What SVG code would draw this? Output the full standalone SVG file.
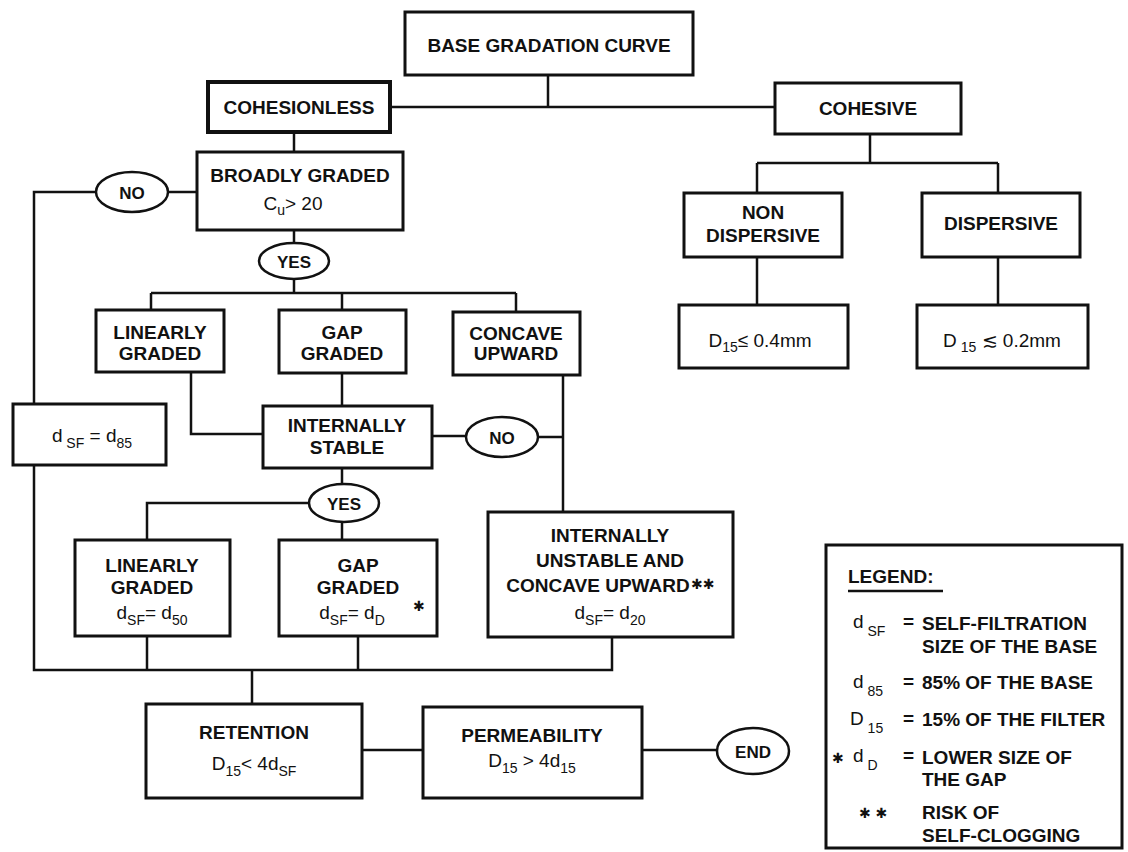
<svg xmlns="http://www.w3.org/2000/svg" width="1128" height="852" viewBox="0 0 1128 852">
<style>
.box{fill:#fff;stroke:#111;stroke-width:3}
.thick{stroke-width:4}
.ell{fill:#fff;stroke:#111;stroke-width:2.5}
.ln{fill:none;stroke:#111;stroke-width:2.5;stroke-linejoin:miter}
text{font-family:"Liberation Sans",Arial,sans-serif;font-weight:bold;font-size:19px;fill:#111}
.c{text-anchor:middle}
.s{font-size:14px}
.r{font-weight:normal}
.st{font-family:"DejaVu Sans",sans-serif;font-size:14px;font-weight:bold}
</style>
<rect width="1128" height="852" fill="#fff"/>
<g id="connectors">
<path class="ln" d="M548,75V107M390,107H775"/>
<path class="ln" d="M294,132V152"/>
<path class="ln" d="M197,192H167M96,192H34V404"/>
<path class="ln" d="M34,465V670H612V637"/>
<path class="ln" d="M294,230V243M294,278V293M151,293H516M151,293V310M342,293V310M516,293V312"/>
<path class="ln" d="M191,372V434H263"/>
<path class="ln" d="M342,373V406"/>
<path class="ln" d="M432,436H466M538,437H563"/>
<path class="ln" d="M563,375V512"/>
<path class="ln" d="M342,468V484M309,503H147V540M342,522V540"/>
<path class="ln" d="M147,636V670M358,636V670M252,670V704"/>
<path class="ln" d="M362,750H423M642,750H717"/>
<path class="ln" d="M870,134V163M757,163H998M757,163V193M998,163V193"/>
<path class="ln" d="M757,257V305M998,257V305"/>
</g>
<g id="base"><rect class="box" x="405" y="12" width="288" height="63"/><text class="c" x="549" y="52">BASE GRADATION CURVE</text></g>
<g id="cohesionless"><rect class="box thick" x="208" y="82" width="182" height="50"/><text class="c" x="299" y="114">COHESIONLESS</text></g>
<g id="cohesive"><rect class="box" x="775" y="83" width="186" height="51"/><text class="c" x="868" y="115">COHESIVE</text></g>
<g id="broadly"><rect class="box" x="197" y="152" width="206" height="78"/><text class="c" x="300" y="182">BROADLY GRADED</text><text class="c r" x="293" y="210">C<tspan class="s" dy="5">u</tspan><tspan dy="-5">&gt; 20</tspan></text></g>
<g id="no1"><ellipse class="ell" cx="132" cy="192" rx="36" ry="20"/><text class="c" x="132" y="199" style="font-size:17px">NO</text></g>
<g id="yes1"><ellipse class="ell" cx="294" cy="261" rx="35" ry="18"/><text class="c" x="294" y="268" style="font-size:17px">YES</text></g>
<g id="nondispersive"><rect class="box" x="684" y="193" width="158" height="64"/><text class="c" x="763" y="219">NON</text><text class="c" x="763" y="242">DISPERSIVE</text></g>
<g id="dispersive"><rect class="box" x="922" y="193" width="158" height="64"/><text class="c" x="1001" y="230">DISPERSIVE</text></g>
<g id="d15a"><rect class="box" x="679" y="305" width="169" height="63"/><text class="c r" x="760" y="347">D<tspan class="s" dy="5">15</tspan><tspan dy="-5">≤  0.4mm</tspan></text></g>
<g id="d15b"><rect class="box" x="917" y="305" width="171" height="63"/><text class="c r" x="1002" y="347">D<tspan class="s" dy="5"> 15</tspan><tspan dy="-5"> ≲ 0.2mm</tspan></text></g>
<g id="linear1"><rect class="box" x="96" y="310" width="128" height="62"/><text class="c" x="160" y="339">LINEARLY</text><text class="c" x="160" y="360">GRADED</text></g>
<g id="gap1"><rect class="box" x="279" y="310" width="127" height="63"/><text class="c" x="342" y="339">GAP</text><text class="c" x="342" y="360">GRADED</text></g>
<g id="concave"><rect class="box" x="453" y="312" width="127" height="63"/><text class="c" x="516" y="340">CONCAVE</text><text class="c" x="516" y="360">UPWARD</text></g>
<g id="dsf85"><rect class="box" x="13" y="404" width="153" height="61"/><text class="c r" x="92" y="442">d<tspan class="s" dy="6"> SF</tspan><tspan dy="-6"> = d</tspan><tspan class="s" dy="6">85</tspan></text></g>
<g id="stable"><rect class="box" x="263" y="406" width="169" height="62"/><text class="c" x="347" y="432">INTERNALLY</text><text class="c" x="347" y="454">STABLE</text></g>
<g id="no2"><ellipse class="ell" cx="502" cy="437" rx="36" ry="20"/><text class="c" x="502" y="444" style="font-size:17px">NO</text></g>
<g id="yes2"><ellipse class="ell" cx="344" cy="503" rx="35" ry="19"/><text class="c" x="344" y="510" style="font-size:17px">YES</text></g>
<g id="linear2"><rect class="box" x="75" y="540" width="155" height="96"/><text class="c" x="152" y="572">LINEARLY</text><text class="c" x="152" y="594">GRADED</text><text class="c r" x="152" y="619">d<tspan class="s" dy="6">SF</tspan><tspan dy="-6">= d</tspan><tspan class="s" dy="6">50</tspan></text></g>
<g id="gap2"><rect class="box" x="279" y="540" width="158" height="96"/><text class="c" x="358" y="572">GAP</text><text class="c" x="358" y="594">GRADED</text><text class="c r" x="352" y="619">d<tspan class="s" dy="6">SF</tspan><tspan dy="-6">= d</tspan><tspan class="s" dy="6">D</tspan></text><text class="st" x="413" y="611">✱</text></g>
<g id="unstable"><rect class="box" x="488" y="512" width="245" height="125"/><text class="c" x="610" y="542">INTERNALLY</text><text class="c" x="610" y="567">UNSTABLE AND</text><text class="c" x="598" y="592">CONCAVE UPWARD</text><text class="st" x="691" y="589">✱✱</text><text class="c r" x="610" y="619">d<tspan class="s" dy="6">SF</tspan><tspan dy="-6">= d</tspan><tspan class="s" dy="6">20</tspan></text></g>
<g id="retention"><rect class="box" x="146" y="704" width="216" height="94"/><text class="c" x="254" y="739">RETENTION</text><text class="c r" x="254" y="770">D<tspan class="s" dy="6">15</tspan><tspan dy="-6">&lt; 4d</tspan><tspan class="s" dy="6">SF</tspan></text></g>
<g id="permeability"><rect class="box" x="423" y="707" width="219" height="91"/><text class="c" x="532" y="742">PERMEABILITY</text><text class="c r" x="532" y="767">D<tspan class="s" dy="6">15</tspan><tspan dy="-6"> &gt; 4d</tspan><tspan class="s" dy="6">15</tspan></text></g>
<g id="end"><ellipse class="ell" cx="753" cy="751" rx="36" ry="23"/><text class="c" x="753" y="758" style="font-size:17px">END</text></g>
<g id="legend">
<rect class="box" x="826" y="545" width="296" height="303"/>
<text x="848" y="583">LEGEND:</text>
<path class="ln" d="M848,591H943"/>
<text class="r" x="853" y="628">d<tspan class="s" dy="8"> SF</tspan></text><text x="903" y="628">=</text>
<text x="922" y="630">SELF-FILTRATION</text><text x="922" y="653">SIZE OF THE BASE</text>
<text class="r" x="853" y="688">d<tspan class="s" dy="8"> 85</tspan></text><text x="903" y="688">=</text>
<text x="922" y="689">85% OF THE BASE</text>
<text class="r" x="850" y="725">D<tspan class="s" dy="8"> 15</tspan></text><text x="903" y="725">=</text>
<text x="922" y="726">15% OF THE FILTER</text>
<text class="st" x="832" y="763">✱</text><text class="r" x="853" y="762">d<tspan class="s" dy="8"> D</tspan></text><text x="903" y="762">=</text>
<text x="922" y="764">LOWER SIZE OF</text><text x="922" y="786">THE GAP</text>
<text class="st" x="859" y="818">✱ ✱</text>
<text x="922" y="819">RISK OF</text><text x="922" y="842">SELF-CLOGGING</text>
</g>
</svg>
